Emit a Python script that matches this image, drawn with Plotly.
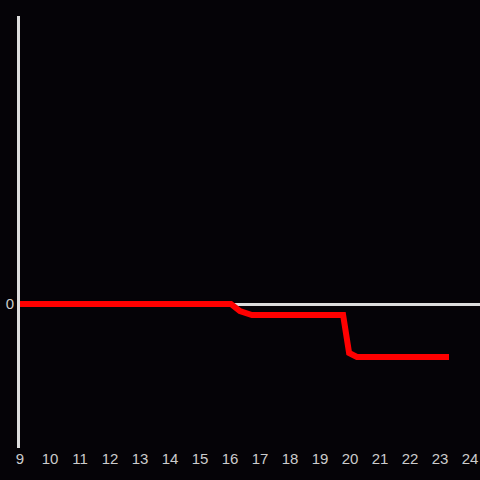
import plotly.graph_objects as go

x_vals = [9, 16.03, 16.33, 16.73, 19.77, 19.97, 20.23, 23.3]
y_vals = [0, 0, -0.07, -0.11, -0.11, -0.49, -0.53, -0.53]
x_ticks = list(range(9, 25))

fig = go.Figure()
fig.add_trace(go.Scatter(x=x_vals, y=y_vals, mode="lines",
                         line=dict(color="#ff0000", width=6), showlegend=False))

fig.update_layout(
    width=480, height=480,
    paper_bgcolor="#050307", plot_bgcolor="#050307",
    margin=dict(l=20, r=0, t=16, b=32),
    font=dict(family="Liberation Sans, Arial, sans-serif", size=14, color="#cccccc"),
    xaxis=dict(range=[9, 24.333], tickvals=x_ticks, showgrid=False, zeroline=False,
               showline=False, ticks="", automargin=False,
               tickfont=dict(size=15, color="#cccccc")),
    yaxis=dict(range=[-1.44, 2.88], tickvals=[0], showgrid=False, zeroline=True,
               zerolinecolor="#dddddd", zerolinewidth=3, automargin=False,
               showline=True, linecolor="#dddddd", linewidth=3, ticks="",
               tickfont=dict(size=15, color="#cccccc")),
)

fig.write_html("out.html", config={"displayModeBar": False})
with open("out.html", "r", encoding="utf-8") as f:
    html = f.read()
html = html.replace("<head>", "<head><style>html,body{margin:0;padding:0;background:#050307;overflow:hidden;}</style>", 1)
with open("out.html", "w", encoding="utf-8") as f:
    f.write(html)
